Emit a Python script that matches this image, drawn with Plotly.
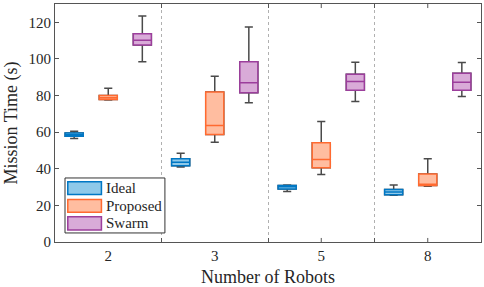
import plotly.graph_objects as go

categories = ["2", "3", "5", "8"]

ideal_min = [56.5, 41.0, 27.6, 25.6]
ideal_q1 = [57.8, 41.6, 28.9, 25.8]
ideal_med = [58.6, 43.6, 30.2, 27.3]
ideal_q3 = [59.6, 45.5, 30.9, 28.7]
ideal_max = [60.5, 48.5, 31.1, 31.1]

prop_min = [77.5, 54.5, 36.9, 30.5]
prop_q1 = [77.8, 58.7, 40.5, 30.9]
prop_med = [78.8, 63.6, 45.1, 31.5]
prop_q3 = [80.0, 82.0, 54.2, 37.1]
prop_max = [84.0, 90.5, 65.8, 45.5]

swarm_min = [98.5, 76.0, 76.7, 79.5]
swarm_q1 = [107.6, 81.5, 82.9, 82.9]
swarm_med = [110.2, 87.0, 87.6, 87.3]
swarm_q3 = [113.8, 98.5, 91.6, 92.2]
swarm_max = [123.5, 117.5, 98.2, 98.0]

series_names = ["Ideal", "Proposed", "Swarm"]
line_colors = ["#0077C4", "#FF6A30", "#9C3E9C"]
fill_colors = ["#8FC9E9", "#FFBDA0", "#D9ABD8"]
stats = [
    (ideal_min, ideal_q1, ideal_med, ideal_q3, ideal_max),
    (prop_min, prop_q1, prop_med, prop_q3, prop_max),
    (swarm_min, swarm_q1, swarm_med, swarm_q3, swarm_max),
]

FONT = "Liberation Serif"
AX = "#555555"
fig = go.Figure()

for name, (mn, q1, med, q3, mx), lc, fc in zip(series_names, stats, line_colors, fill_colors):
    # whiskers (dark) underneath
    fig.add_trace(go.Box(
        x=categories, q1=q1, median=med, q3=q3, lowerfence=mn, upperfence=mx,
        name=name, offsetgroup=name, showlegend=False, hoverinfo="skip",
        line=dict(color="#4a4a4a", width=1.5), fillcolor="rgba(0,0,0,0)",
        whiskerwidth=0.45,
    ))
    # coloured box on top
    fig.add_trace(go.Box(
        x=categories, q1=q1, median=med, q3=q3, lowerfence=q1, upperfence=q3,
        name=name, offsetgroup=name, showlegend=False,
        line=dict(color=lc, width=1.5), fillcolor=fc,
        whiskerwidth=0,
    ))

n = len(categories)

# tick marks at category centres (boundary ticks come from tickson)
for c in categories:
    for (y0, y1) in [(0, 0.017), (1 - 0.017, 1)]:
        fig.add_shape(type="line", xref="x", yref="paper", x0=c, x1=c, y0=y0, y1=y1,
                      line=dict(color=AX, width=1), layer="above")

# legend drawn as a framed box with patches and text labels
fig.add_shape(type="rect", xref="paper", yref="paper", x0=0.0235, x1=0.258, y0=0.038, y1=0.269,
              line=dict(color="#333333", width=1), fillcolor="white", layer="above")
patch_rows = [(0.200, 0.253), (0.125, 0.179), (0.050, 0.106)]
for name, lc, fc, (y0, y1) in zip(series_names, line_colors, fill_colors, patch_rows):
    fig.add_shape(type="rect", xref="paper", yref="paper", x0=0.030, x1=0.109, y0=y0, y1=y1,
                  line=dict(color=lc, width=1.5), fillcolor=fc, layer="above")
    fig.add_annotation(text=name, xref="paper", yref="paper", x=0.116, y=(y0 + y1) / 2,
                       xanchor="left", yanchor="middle", showarrow=False,
                       font=dict(size=15, family=FONT, color="#262626"))

fig.update_layout(
    width=484, height=287,
    margin=dict(l=55, r=3, t=4, b=45, autoexpand=False),
    paper_bgcolor="white", plot_bgcolor="white",
    boxmode="group", boxgap=0.04, boxgroupgap=0.47,
    showlegend=False,
    font=dict(family=FONT, size=14, color="#262626"),
    xaxis=dict(
        type="category", categoryorder="array", categoryarray=categories,
        range=[-0.5, n - 0.5], automargin=False,
        showline=True, linecolor=AX, linewidth=1, mirror="ticks",
        ticks="inside", ticklen=4, tickcolor=AX, tickson="boundaries",
        showgrid=True, gridcolor="#b0b0b0", griddash="dot", gridwidth=1,
        zeroline=False,
        title=dict(text="Number of Robots", font=dict(size=18), standoff=9),
        tickfont=dict(size=15),
    ),
    yaxis=dict(
        range=[0, 130], dtick=20, tick0=0, automargin=False,
        showline=True, linecolor=AX, linewidth=1, mirror="ticks",
        ticks="inside", ticklen=4, tickcolor=AX,
        showgrid=False, zeroline=False,
        title=dict(text="Mission Time (s)", font=dict(size=18), standoff=6),
        tickfont=dict(size=15),
    ),
)

fig.write_html("out.html", config={"displayModeBar": False},
               post_script="document.body.style.margin='0';")
